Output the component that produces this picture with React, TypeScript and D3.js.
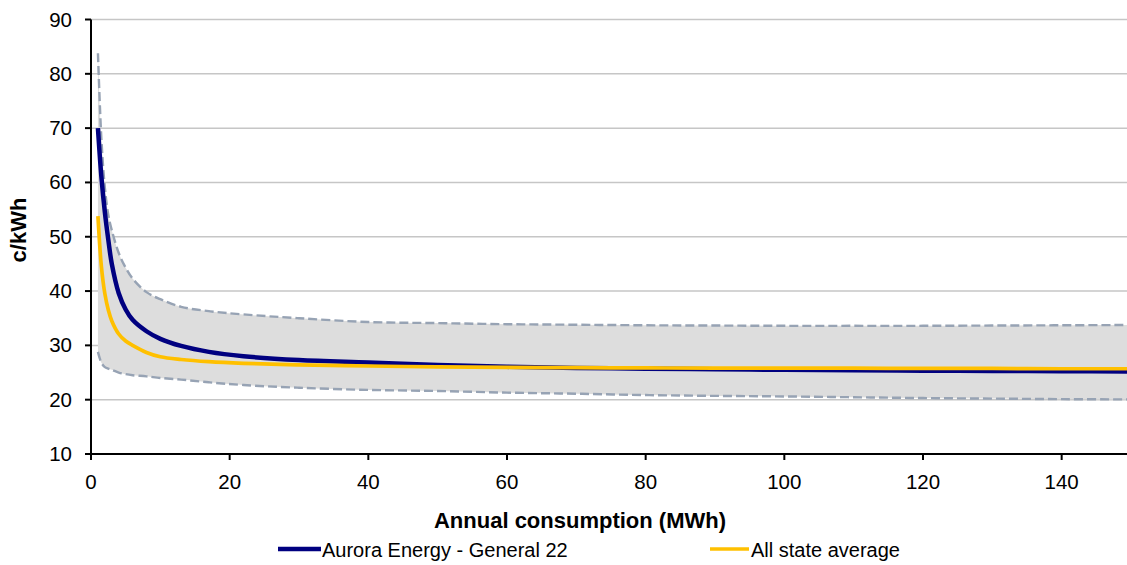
import React from "react";
import * as d3 from "d3";

const consumption = [1, 1.5, 2, 2.5, 3, 4, 5, 6, 8, 10, 13, 17, 22, 30, 40, 50, 60, 70, 80, 90, 100, 110, 120, 130, 140, 150];
const aurora = [70, 61, 54.5, 49.4, 45.0, 39.6, 36.6, 34.7, 32.6, 31.2, 29.9, 28.8, 28.0, 27.3, 26.85, 26.4, 26.05, 25.85, 25.7, 25.6, 25.5, 25.4, 25.35, 25.3, 25.25, 25.2];
const stateAvg = [53.8, 44.5, 39.5, 36.5, 34.5, 32.1, 30.8, 30.0, 28.7, 27.9, 27.4, 27.0, 26.7, 26.4, 26.2, 26.05, 25.95, 25.9, 25.85, 25.8, 25.8, 25.8, 25.75, 25.75, 25.7, 25.7];
const upperBound = [83.8, 68, 59, 54, 51.2, 47, 44.3, 42.3, 39.8, 38.5, 37.1, 36.3, 35.7, 35.0, 34.3, 34.1, 33.9, 33.8, 33.7, 33.65, 33.6, 33.6, 33.6, 33.65, 33.7, 33.75];
const lowerBound = [28.8, 26.8, 26.0, 25.7, 25.5, 25.0, 24.7, 24.5, 24.3, 24.0, 23.7, 23.2, 22.7, 22.2, 21.8, 21.6, 21.3, 21.1, 20.85, 20.7, 20.6, 20.45, 20.3, 20.2, 20.1, 20.05];

const xTicks = [0, 20, 40, 60, 80, 100, 120, 140];
const yTicks = [10, 20, 30, 40, 50, 60, 70, 80, 90];
const seriesNames = ["Aurora Energy - General 22", "All state average"];

const W = 1127;
const H = 565;
const FONT = "'Liberation Sans', Arial, sans-serif";

export default function App() {
  const x = d3.scaleLinear().domain([0, 150]).range([91, 1131]);
  const y = d3.scaleLinear().domain([10, 90]).range([454, 19.5]);

  const pts = (vals: number[]) => consumption.map((c, i) => [c, vals[i]] as [number, number]);
  const curve = d3.curveCatmullRom.alpha(0.5);
  const line = d3
    .line<[number, number]>()
    .x((d) => x(d[0]))
    .y((d) => y(d[1]))
    .curve(curve);
  const band = d3
    .area<number>()
    .x((_, i) => x(consumption[i]))
    .y0((_, i) => y(lowerBound[i]))
    .y1((_, i) => y(upperBound[i]))
    .curve(curve);

  const x0 = 91;
  const yBase = 454;

  return (
    <svg width={W} height={H} style={{ position: "absolute", left: 0, top: 0, background: "#fff" }} fontFamily={FONT}>
      <defs>
        <clipPath id="plot">
          <rect x={x0} y={0} width={W - x0} height={yBase} />
        </clipPath>
      </defs>
      {yTicks.filter((t) => t > 10).map((t) => (
        <line key={t} x1={x0} x2={W} y1={y(t)} y2={y(t)} stroke="#C6C6C6" strokeWidth={1.5} />
      ))}
      <g clipPath="url(#plot)">
        <path d={band(upperBound) || ""} fill="#DDDDDD" stroke="none" />
        <path d={line(pts(upperBound)) || ""} fill="none" stroke="#97A3B4" strokeWidth={2.4} strokeDasharray="9 4" />
        <path d={line(pts(lowerBound)) || ""} fill="none" stroke="#97A3B4" strokeWidth={2.4} strokeDasharray="9 4" />
        <path d={line(pts(aurora)) || ""} fill="none" stroke="#000080" strokeWidth={4.5} />
        <path d={line(pts(stateAvg)) || ""} fill="none" stroke="#FFC000" strokeWidth={3.7} />
      </g>
      <line x1={x0} x2={x0} y1={y(90)} y2={yBase} stroke="#000" strokeWidth={2} />
      <line x1={x0} x2={W} y1={yBase} y2={yBase} stroke="#000" strokeWidth={2} />
      {yTicks.map((t) => (
        <g key={t}>
          <line x1={x0 - 6} x2={x0} y1={y(t)} y2={y(t)} stroke="#000" strokeWidth={2} />
          <text x={72} y={y(t) + 7} textAnchor="end" fontSize={20.5} fill="#000">
            {t}
          </text>
        </g>
      ))}
      {xTicks.map((t) => (
        <g key={t}>
          <line x1={x(t)} x2={x(t)} y1={yBase} y2={yBase + 6} stroke="#000" strokeWidth={2} />
          <text x={x(t)} y={489} textAnchor="middle" fontSize={20.5} fill="#000">
            {t}
          </text>
        </g>
      ))}
      <text x={580} y={528} textAnchor="middle" fontSize={22} fontWeight="bold" fill="#000">
        Annual consumption (MWh)
      </text>
      <text transform={`translate(26,230) rotate(-90)`} textAnchor="middle" fontSize={22} fontWeight="bold" fill="#000">
        c/kWh
      </text>
      <line x1={278} x2={321} y1={549} y2={549} stroke="#000080" strokeWidth={4.5} />
      <text x={322} y={557} fontSize={20} fill="#000">
        {seriesNames[0]}
      </text>
      <line x1={710} x2={749} y1={549} y2={549} stroke="#FFC000" strokeWidth={3.7} />
      <text x={751} y={557} fontSize={20} fill="#000">
        {seriesNames[1]}
      </text>
    </svg>
  );
}
